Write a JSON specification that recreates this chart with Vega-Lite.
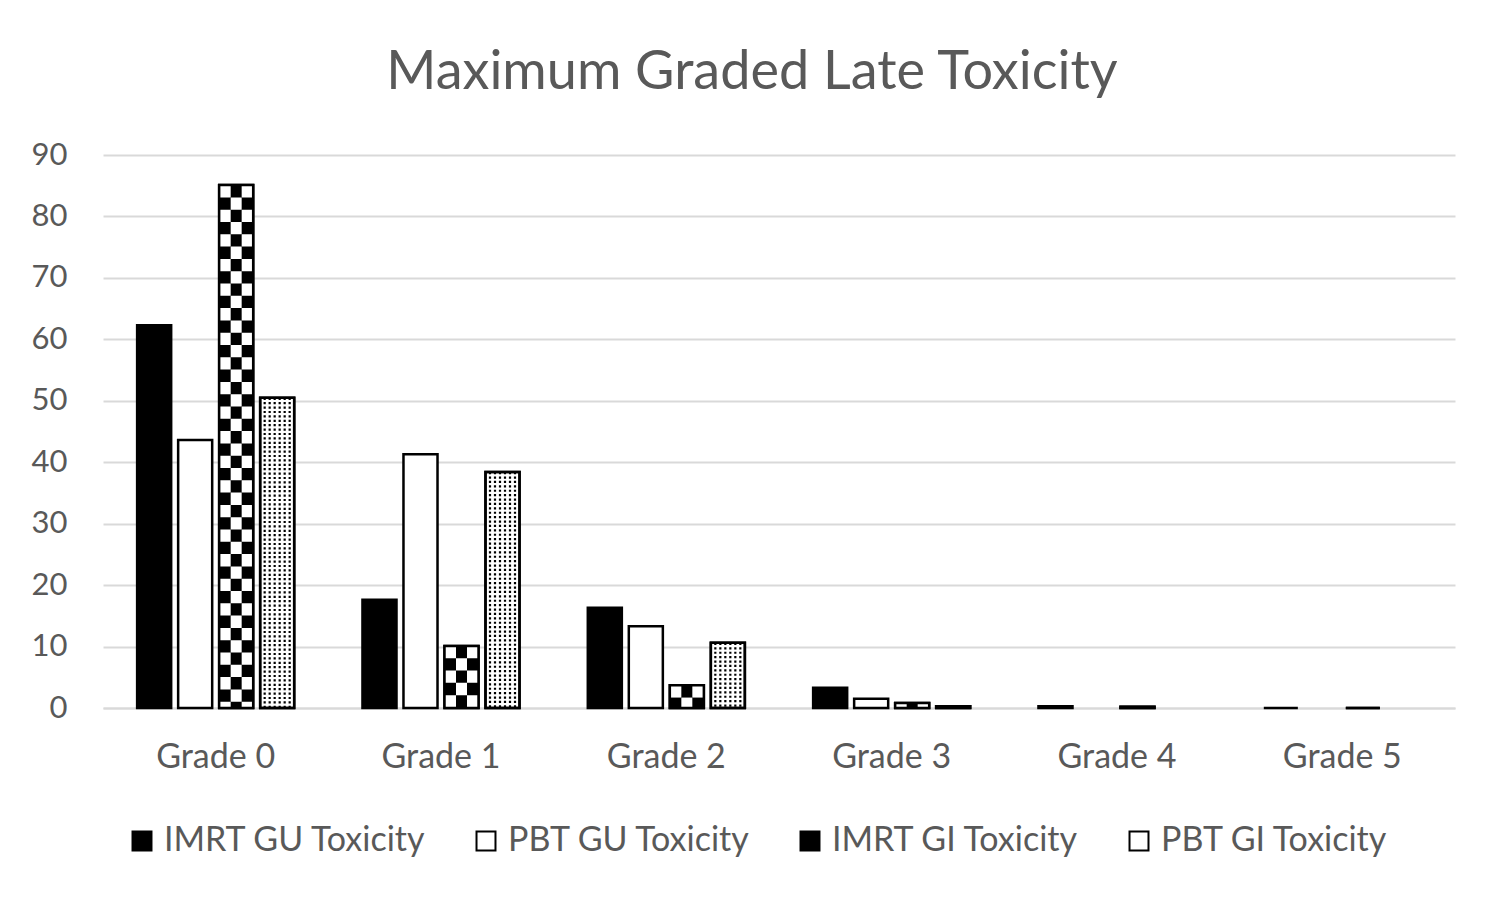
{
  "$schema": "https://vega.github.io/schema/vega-lite/v6.json",
  "autosize": "none",
  "padding": {"left": 103, "top": 155, "right": 49, "bottom": 195},
  "width": 1352,
  "height": 553,
  "background": "white",
  "config": {"font": "Lato", "view": {"stroke": null}},
  "title": {"text": "Maximum Graded Late Toxicity", "fontSize": 54, "fontWeight": "normal", "color": "#595959", "anchor": "middle", "dx": -27, "offset": 39},
  "data": {"values": [
    {"grade": "Grade 0", "series": "IMRT GU Toxicity", "value": 62.3},
    {"grade": "Grade 0", "series": "PBT GU Toxicity", "value": 43.6},
    {"grade": "Grade 0", "series": "IMRT GI Toxicity", "value": 85.1},
    {"grade": "Grade 0", "series": "PBT GI Toxicity", "value": 50.5},
    {"grade": "Grade 1", "series": "IMRT GU Toxicity", "value": 17.6},
    {"grade": "Grade 1", "series": "PBT GU Toxicity", "value": 41.3},
    {"grade": "Grade 1", "series": "IMRT GI Toxicity", "value": 10.1},
    {"grade": "Grade 1", "series": "PBT GI Toxicity", "value": 38.4},
    {"grade": "Grade 2", "series": "IMRT GU Toxicity", "value": 16.3},
    {"grade": "Grade 2", "series": "PBT GU Toxicity", "value": 13.3},
    {"grade": "Grade 2", "series": "IMRT GI Toxicity", "value": 3.7},
    {"grade": "Grade 2", "series": "PBT GI Toxicity", "value": 10.6},
    {"grade": "Grade 3", "series": "IMRT GU Toxicity", "value": 3.3},
    {"grade": "Grade 3", "series": "PBT GU Toxicity", "value": 1.5},
    {"grade": "Grade 3", "series": "IMRT GI Toxicity", "value": 0.8},
    {"grade": "Grade 3", "series": "PBT GI Toxicity", "value": 0.3},
    {"grade": "Grade 4", "series": "IMRT GU Toxicity", "value": 0.3},
    {"grade": "Grade 4", "series": "IMRT GI Toxicity", "value": 0.2},
    {"grade": "Grade 5", "series": "IMRT GU Toxicity", "value": 0},
    {"grade": "Grade 5", "series": "IMRT GI Toxicity", "value": 0}
  ]},
  "encoding": {
    "x": {"field": "grade", "type": "nominal", "sort": null,
      "scale": {"domain": ["Grade 0", "Grade 1", "Grade 2", "Grade 3", "Grade 4", "Grade 5"], "paddingInner": 0.272, "paddingOuter": 0.136},
      "axis": {"title": null, "labelAngle": 0, "ticks": false, "domainColor": "#d9d9d9", "domainWidth": 2, "labelFontSize": 34, "labelColor": "#595959", "labelPadding": 32}},
    "y": {"field": "value", "type": "quantitative",
      "scale": {"domain": [0, 90], "nice": false},
      "axis": {"title": null, "values": [0, 10, 20, 30, 40, 50, 60, 70, 80, 90], "domain": false, "ticks": false, "gridColor": "#d9d9d9", "gridWidth": 2, "labelFontSize": 31, "labelColor": "#595959", "labelPadding": 36}}
  },
  "layer": [
    {
      "mark": {"type": "bar", "stroke": "black", "strokeWidth": 2.5},
      "encoding": {
        "xOffset": {"field": "series", "type": "nominal", "scale": {"domain": ["IMRT GU Toxicity", "PBT GU Toxicity", "IMRT GI Toxicity", "PBT GI Toxicity"], "paddingInner": 0.17, "paddingOuter": 0.085}},
        "fill": {"field": "series", "type": "nominal",
          "scale": {"domain": ["IMRT GU Toxicity", "PBT GU Toxicity", "IMRT GI Toxicity", "PBT GI Toxicity"], "range": ["black", "white", "black", "white"]},
          "legend": {"title": null, "orient": "none", "legendX": 22, "legendY": 669, "direction": "horizontal", "symbolType": "square", "symbolSize": 360, "symbolStrokeColor": "black", "symbolStrokeWidth": 2, "labelFontSize": 34, "labelColor": "#595959", "labelOffset": 5, "columnPadding": 42, "labelLimit": 400}}
      }
    },
    {
      "transform": [{"filter": "datum.series === 'IMRT GI Toxicity'"}],
      "mark": {"type": "rule", "stroke": "white", "strokeWidth": 11, "strokeDash": [12.3, 12.3], "xOffset": 9.5},
      "encoding": {"y2": {"datum": 0}}
    },
    {
      "transform": [{"filter": "datum.series === 'IMRT GI Toxicity'"}],
      "mark": {"type": "rule", "stroke": "white", "strokeWidth": 11, "strokeDash": [12.3, 12.3], "strokeDashOffset": 12.3, "xOffset": 20.5},
      "encoding": {"y2": {"datum": 0}}
    },
    {
      "transform": [{"filter": "datum.series === 'IMRT GI Toxicity'"}],
      "mark": {"type": "rule", "stroke": "white", "strokeWidth": 11, "strokeDash": [12.3, 12.3], "xOffset": 31.5},
      "encoding": {"y2": {"datum": 0}}
    },
    {"transform": [{"filter": "datum.series === 'PBT GI Toxicity'"}], "mark": {"type": "rule", "stroke": "black", "strokeWidth": 2.2, "strokeDash": [2.2, 2.2], "xOffset": 49}, "encoding": {"y2": {"datum": 0}}},
    {"transform": [{"filter": "datum.series === 'PBT GI Toxicity'"}], "mark": {"type": "rule", "stroke": "black", "strokeWidth": 2.2, "strokeDash": [2.2, 2.2], "xOffset": 54}, "encoding": {"y2": {"datum": 0}}},
    {"transform": [{"filter": "datum.series === 'PBT GI Toxicity'"}], "mark": {"type": "rule", "stroke": "black", "strokeWidth": 2.2, "strokeDash": [2.2, 2.2], "xOffset": 59}, "encoding": {"y2": {"datum": 0}}},
    {"transform": [{"filter": "datum.series === 'PBT GI Toxicity'"}], "mark": {"type": "rule", "stroke": "black", "strokeWidth": 2.2, "strokeDash": [2.2, 2.2], "xOffset": 64}, "encoding": {"y2": {"datum": 0}}},
    {"transform": [{"filter": "datum.series === 'PBT GI Toxicity'"}], "mark": {"type": "rule", "stroke": "black", "strokeWidth": 2.2, "strokeDash": [2.2, 2.2], "xOffset": 69}, "encoding": {"y2": {"datum": 0}}},
    {"transform": [{"filter": "datum.series === 'PBT GI Toxicity'"}], "mark": {"type": "rule", "stroke": "black", "strokeWidth": 2.2, "strokeDash": [2.2, 2.2], "xOffset": 74}, "encoding": {"y2": {"datum": 0}}},
    {
      "transform": [{"filter": "datum.series === 'IMRT GI Toxicity' || datum.series === 'PBT GI Toxicity'"}],
      "mark": {"type": "bar", "fill": null, "fillOpacity": 0, "stroke": "black", "strokeWidth": 2.5},
      "encoding": {
        "xOffset": {"field": "series", "type": "nominal", "scale": {"domain": ["IMRT GU Toxicity", "PBT GU Toxicity", "IMRT GI Toxicity", "PBT GI Toxicity"], "paddingInner": 0.17, "paddingOuter": 0.085}}
      }
    }
  ]
}
